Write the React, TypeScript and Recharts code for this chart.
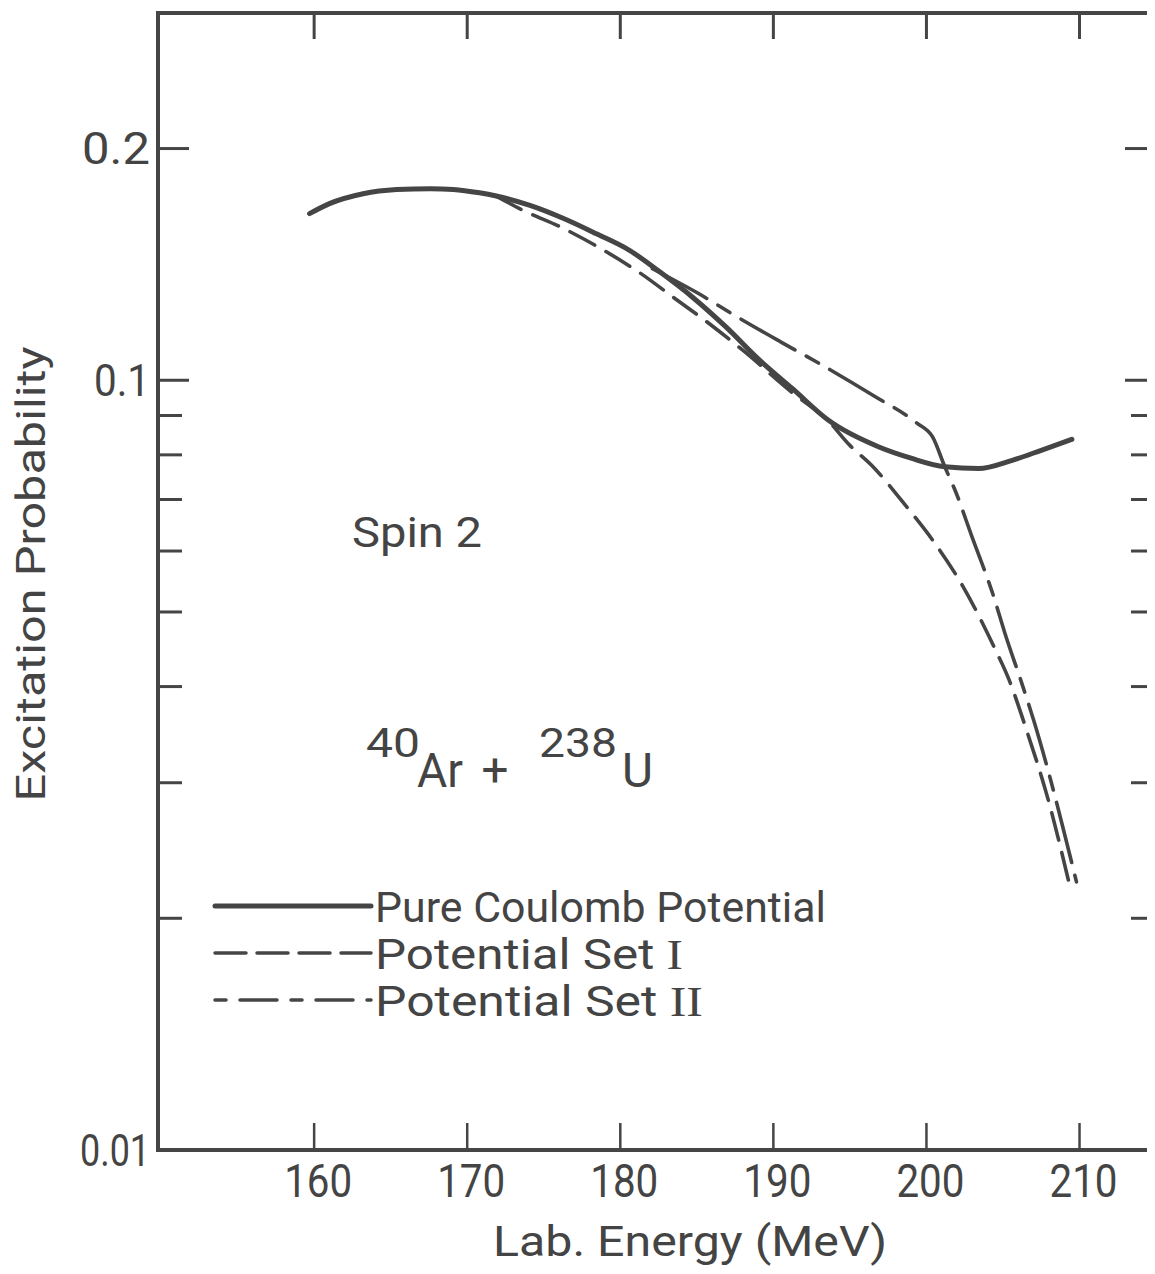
import { Legend, Line, LineChart, XAxis, YAxis } from "recharts";

// Pure Coulomb potential (solid)
const coulombEnergy = [159.7, 161, 163.2, 165.4, 167.6, 169.1, 170.8, 171.9, 174.1, 176.3, 178.4, 180.6, 182.6, 184.7, 186.9, 189.1, 191.25, 193.6, 196.9, 199, 201.2, 203.4, 205.6, 207.5, 209.5];
const coulombProb = [0.1646, 0.1696, 0.1747, 0.1769, 0.1774, 0.177, 0.1752, 0.1735, 0.1687, 0.1622, 0.1551, 0.1475, 0.1382, 0.1283, 0.1173, 0.1062, 0.0975, 0.0887, 0.0819, 0.0792, 0.0772, 0.0768, 0.0787, 0.0811, 0.0838];

// Potential set I (dashed)
const setOneEnergy = [171.9, 173.6, 176.2, 178.8, 181.3, 183.5, 185.8, 188, 191.2, 193.6, 195, 196.4, 198.7, 200.4, 202.4, 204.4, 205.4, 206.5, 208, 209.3];
const setOneProb = [0.1735, 0.1664, 0.1578, 0.148, 0.1378, 0.128, 0.1185, 0.1094, 0.0965, 0.0885, 0.0823, 0.0776, 0.0685, 0.062, 0.0539, 0.0451, 0.0408, 0.0353, 0.0283, 0.0223];

// Potential set II (long-short dash)
const setTwoEnergy = [182.1, 185, 187.5, 190.5, 193.2, 196.5, 199.4, 200.4, 201.2, 202, 202.9, 204.4, 205.1, 206.3, 207, 208.2, 208.8, 209.8];
const setTwoProb = [0.1396, 0.13, 0.1213, 0.1121, 0.1046, 0.0956, 0.0879, 0.0844, 0.0772, 0.0709, 0.0632, 0.0523, 0.0471, 0.04, 0.0362, 0.0298, 0.0268, 0.0223];

const energyTicks = [160, 170, 180, 190, 200, 210];
const probTicks = [0.01, 0.02, 0.03, 0.04, 0.05, 0.06, 0.07, 0.08, 0.09, 0.1, 0.2];
const probLabelTicks = [0.01, 0.1, 0.2];

const zip = (es: number[], ps: number[]) => es.map((e, i) => ({ e, p: ps[i] }));
const coulomb = zip(coulombEnergy, coulombProb);
const setOne = zip(setOneEnergy, setOneProb);
const setTwo = zip(setTwoEnergy, setTwoProb);

const W = 1147;
const H = 1264;
const X_DOMAIN: [number, number] = [149.8, 214.8];
const INK = "#454545";
const TEXT = "#444";
const FONT = "Roboto, 'DejaVu Sans', sans-serif";
const SERIF = "'Liberation Serif', 'DejaVu Serif', serif";

const labelWidth: Record<string, number> = { "0.01": 70, "0.1": 56, "0.2": 68 };

function LeftTick(props: any) {
  const { x, y, payload } = props;
  const v = payload.value as number;
  const label = probLabelTicks.includes(v) ? String(v) : null;
  return (
    <g>
      {v > 0.01 && (
        <line x1={x} y1={y} x2={x + (v >= 0.1 ? 31 : 24)} y2={y} stroke={INK} strokeWidth={3} />
      )}
      {label && (
        <text
          x={x - 8}
          y={y}
          dy="0.36em"
          textAnchor="end"
          fontSize={44}
          fill={TEXT}
          fontFamily={FONT}
          textLength={labelWidth[label]}
          lengthAdjust="spacingAndGlyphs"
        >
          {label}
        </text>
      )}
    </g>
  );
}

function RightTick(props: any) {
  const { x, y, payload } = props;
  const len = payload.value >= 0.1 ? 28 : 22;
  return <line x1={x - len} y1={y} x2={x} y2={y} stroke={INK} strokeWidth={3} />;
}

function BottomTick(props: any) {
  const { x, y, payload } = props;
  return (
    <g>
      <line x1={x} y1={y} x2={x} y2={y - 27} stroke={INK} strokeWidth={2.5} />
      <text
        x={x + 4}
        y={y + 47}
        textAnchor="middle"
        fontSize={47}
        fill={TEXT}
        fontFamily={FONT}
        textLength={68}
        lengthAdjust="spacingAndGlyphs"
      >
        {payload.value}
      </text>
    </g>
  );
}

function TopTick(props: any) {
  const { x, y } = props;
  return <line x1={x} y1={y} x2={x} y2={y + 26} stroke={INK} strokeWidth={3} />;
}

const legendItems = [
  { label: "Pure Coulomb Potential", numeral: "", dash: undefined, width: 5, textWidth: 451 },
  { label: "Potential Set ", numeral: "I", dash: "31 11", width: 3.5, textWidth: 308 },
  { label: "Potential Set ", numeral: "II", dash: "11 14 37 14", width: 3.5, textWidth: 328 },
];

function LegendBox() {
  return (
    <svg width={680} height={160} style={{ display: "block" }}>
      {legendItems.map((item, i) => {
        const y = 28 + i * 47;
        return (
          <g key={i}>
            <line x1={7} y1={y} x2={163} y2={y} stroke={INK} strokeWidth={item.width} strokeDasharray={item.dash} strokeLinecap="round" />
            <text
              x={167}
              y={y + 16}
              fontSize={43}
              fill={TEXT}
              fontFamily={FONT}
              textLength={item.textWidth}
              lengthAdjust="spacingAndGlyphs"
            >
              {item.label}
              {item.numeral && <tspan fontFamily={SERIF}>{item.numeral}</tspan>}
            </text>
          </g>
        );
      })}
    </svg>
  );
}

function Annotations() {
  const t = { fill: TEXT, fontFamily: FONT, lengthAdjust: "spacingAndGlyphs" as const };
  return (
    <g>
      <text {...t} x={37} y={566} fontSize={41} textAnchor="middle" textLength={455} transform="rotate(-90 37 566)">
        Excitation Probability
      </text>
      <text {...t} x={682} y={1248} fontSize={42} textAnchor="middle" textLength={394}>
        Lab. Energy (MeV)
      </text>
      <text {...t} x={344} y={539} fontSize={42} textLength={130}>
        Spin 2
      </text>
      <text {...t} x={358} y={749} fontSize={41} textLength={54}>
        40
      </text>
      <text {...t} x={409} y={779} fontSize={48} textLength={46}>
        Ar
      </text>
      <text {...t} x={487} y={778} fontSize={46} textAnchor="middle" textLength={27}>
        +
      </text>
      <text {...t} x={531} y={749} fontSize={41} textLength={78}>
        238
      </text>
      <text {...t} x={614} y={779} fontSize={48} textLength={31}>
        U
      </text>
    </g>
  );
}

export default function App() {
  return (
    <div style={{ width: W, height: 1258, overflow: "hidden" }}>
      <LineChart width={W} height={H} margin={{ top: 5, right: 2, bottom: 0, left: 0 }} style={{ background: "#fff" }}>
        <XAxis
          dataKey="e"
          type="number"
          domain={X_DOMAIN}
          allowDataOverflow
          ticks={energyTicks}
          interval={0}
          height={122}
          tickSize={0}
          tickMargin={0}
          tickLine={false}
          axisLine={{ stroke: INK, strokeWidth: 4, strokeLinecap: "square" }}
          tick={(p: any) => <BottomTick {...p} />}
        />
        <XAxis
          xAxisId="top"
          orientation="top"
          mirror
          dataKey="e"
          type="number"
          domain={X_DOMAIN}
          allowDataOverflow
          ticks={energyTicks}
          interval={0}
          tickSize={0}
          tickMargin={0}
          tickLine={false}
          axisLine={{ stroke: INK, strokeWidth: 4, strokeLinecap: "square" }}
          tick={(p: any) => <TopTick {...p} />}
        />
        <YAxis
          type="number"
          scale="log"
          domain={[0.01, 0.3]}
          allowDataOverflow
          ticks={probTicks}
          interval={0}
          width={150}
          tickSize={0}
          tickMargin={0}
          tickLine={false}
          axisLine={{ stroke: INK, strokeWidth: 4, strokeLinecap: "square" }}
          tick={(p: any) => <LeftTick {...p} />}
        />
        <YAxis
          yAxisId="right"
          orientation="right"
          mirror
          type="number"
          scale="log"
          domain={[0.01, 0.3]}
          allowDataOverflow
          ticks={probTicks.slice(1)}
          interval={0}
          tickSize={0}
          tickMargin={0}
          tickLine={false}
          axisLine={{ stroke: INK, strokeWidth: 1.5 }}
          tick={(p: any) => <RightTick {...p} />}
        />
        <Line
          data={setOne}
          dataKey="p"
          name="Potential Set I"
          type="monotone"
          stroke={INK}
          strokeWidth={3.6}
          strokeDasharray="28 13"
          strokeLinecap="round"
          dot={false}
          activeDot={false}
          isAnimationActive={false}
        />
        <Line
          data={setTwo}
          dataKey="p"
          name="Potential Set II"
          type="monotone"
          stroke={INK}
          strokeWidth={3.6}
          strokeDasharray="62 13 14 13"
          strokeLinecap="round"
          dot={false}
          activeDot={false}
          isAnimationActive={false}
        />
        <Line
          data={coulomb}
          dataKey="p"
          name="Pure Coulomb Potential"
          type="monotone"
          stroke={INK}
          strokeWidth={5}
          strokeLinecap="round"
          dot={false}
          activeDot={false}
          isAnimationActive={false}
        />
        <Legend
          layout="vertical"
          align="center"
          verticalAlign="middle"
          wrapperStyle={{ left: 200, top: 870, width: 680, height: 160 }}
          content={() => <LegendBox />}
        />
        <Annotations />
      </LineChart>
    </div>
  );
}
